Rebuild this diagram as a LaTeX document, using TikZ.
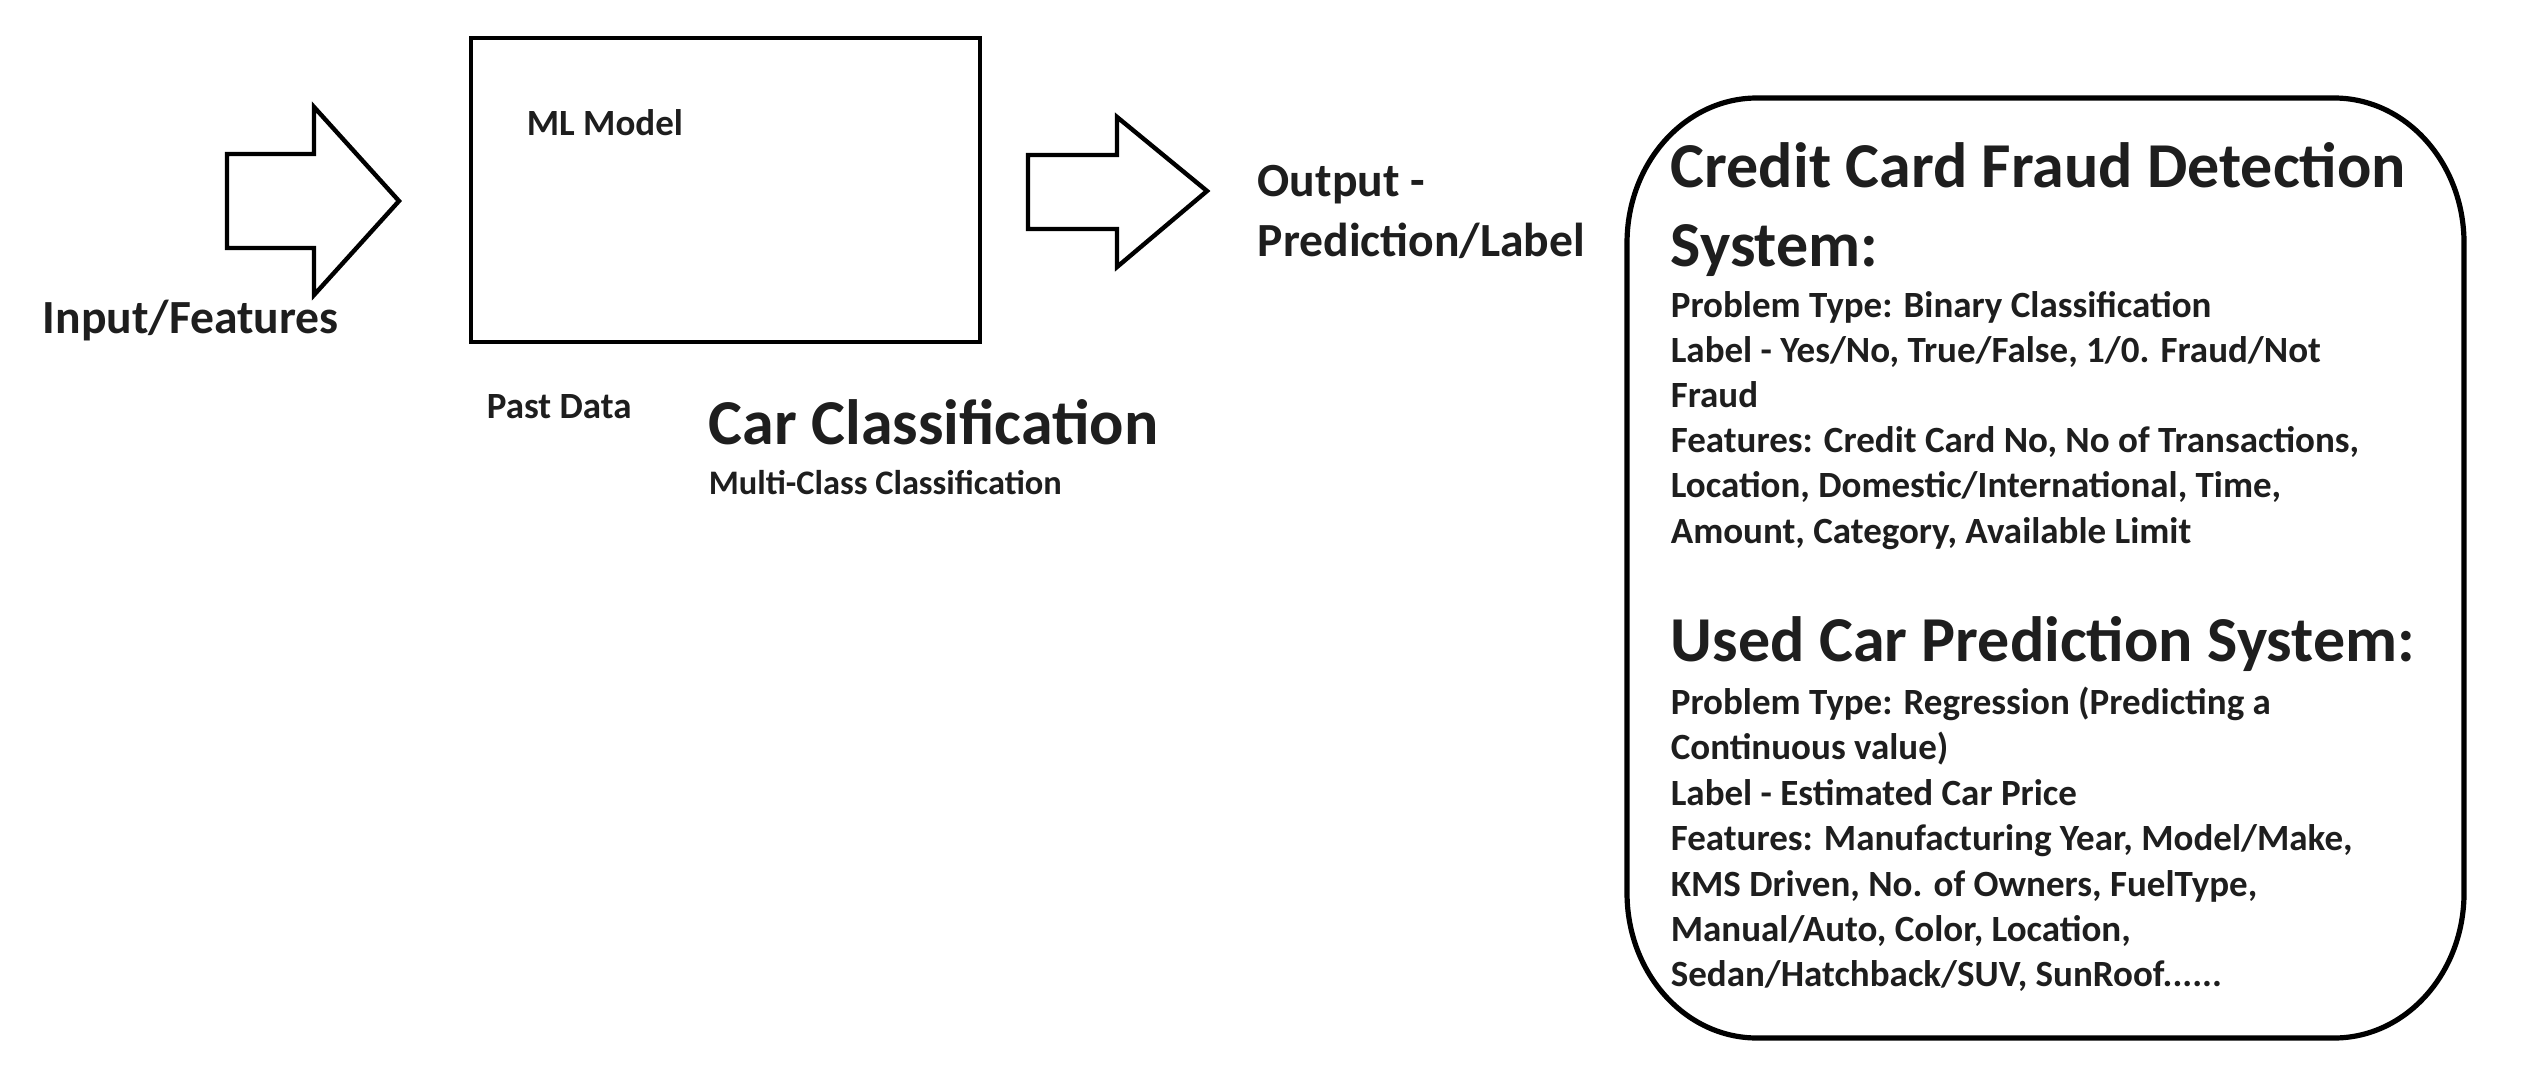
\documentclass[tikz,border=0pt]{standalone}
\usepackage{fontspec}
\setmainfont{Carlito}
\usetikzlibrary{positioning}
\definecolor{ink}{HTML}{1E1E1E}
\tikzset{
  lbl/.style={anchor=base west,inner sep=0pt,text=ink},
  smalllbl/.style={lbl,font=\fontsize{9.25}{11}\selectfont\bfseries},
  sublbl/.style={lbl,font=\fontsize{8.6}{10}\selectfont\bfseries},
  midlbl/.style={lbl,font=\fontsize{11.9}{14}\selectfont\bfseries},
  biglbl/.style={lbl,font=\fontsize{16}{19}\selectfont\bfseries},
  modelbox/.style={rectangle,draw=black,line width=1.2pt,inner sep=0pt,
    minimum width=127.25pt,minimum height=76pt},
  blockarrow/.style={draw=black,line width=1.1pt,line join=miter},
  panel/.style={draw=black,line width=1.3pt},
}
\begin{document}
\begin{tikzpicture}[x=0.25pt,y=-0.25pt]
  \useasboundingbox (0,0) rectangle (2523,1080);
  % input side
  \draw[blockarrow] (227,154) -- (314,154) -- (314,107) -- (399,201)
    -- (314,295) -- (314,248) -- (227,248) -- cycle;
  \node[midlbl] (input) at (42,333) {Input/Features};
  % model
  \node[modelbox] (model) at (725.5,190) {};
  \node[smalllbl] (mlname) at (526,136) {ML Model};
  \node[smalllbl] (pastdata) at (486,418) {Past Data};
  \node[biglbl] (carclass) at (708,444) {Car Classification};
  \node[sublbl] (multiclass) at (708,494) {Multi-Class Classification};
  % output side
  \draw[blockarrow] (1028,155) -- (1117,155) -- (1117,117) -- (1207,191)
    -- (1117,267) -- (1117,229) -- (1028,229) -- cycle;
  \node[midlbl] (output) at (1257,196) {Output -};
  \node[midlbl] (predlabel) at (1257,256) {Prediction/Label};
  % examples panel
  \draw[panel] (1627,243) -- (1627,893)
    .. controls (1627,973) and (1685,1038) .. (1757,1038) -- (2334,1038)
    .. controls (2406,1038) and (2464,973) .. (2464,893) -- (2464,243)
    .. controls (2464,163) and (2406,98) .. (2334,98) -- (1757,98)
    .. controls (1685,98) and (1627,163) .. (1627,243) -- cycle;
  \node[biglbl] (fraudhead) at (1670,188) {Credit Card Fraud Detection};
  \node[biglbl] (fraudhead2) at (1670,267) {System:};
  \node[smalllbl] (fraud1) at (1670,317) {Problem Type: Binary Classification};
  \node[smalllbl] (fraud2) at (1670,362) {Label - Yes/No, True/False, 1/0. Fraud/Not};
  \node[smalllbl] (fraud3) at (1670,407) {Fraud};
  \node[smalllbl] (fraud4) at (1670,452) {Features: Credit Card No, No of Transactions,};
  \node[smalllbl] (fraud5) at (1670,497) {Location, Domestic/International, Time,};
  \node[smalllbl] (fraud6) at (1670,543) {Amount, Category, Available Limit};
  \node[biglbl] (carhead) at (1670,661) {Used Car Prediction System:};
  \node[smalllbl] (car1) at (1670,714) {Problem Type: Regression (Predicting a};
  \node[smalllbl] (car2) at (1670,759) {Continuous value)};
  \node[smalllbl] (car3) at (1670,805) {Label - Estimated Car Price};
  \node[smalllbl] (car4) at (1670,850) {Features: Manufacturing Year, Model/Make,};
  \node[smalllbl] (car5) at (1670,896) {KMS Driven, No. of Owners, FuelType,};
  \node[smalllbl] (car6) at (1670,941) {Manual/Auto, Color, Location,};
  \node[smalllbl] (car7) at (1670,986) {Sedan/Hatchback/SUV, SunRoof......};
\end{tikzpicture}
\end{document}
